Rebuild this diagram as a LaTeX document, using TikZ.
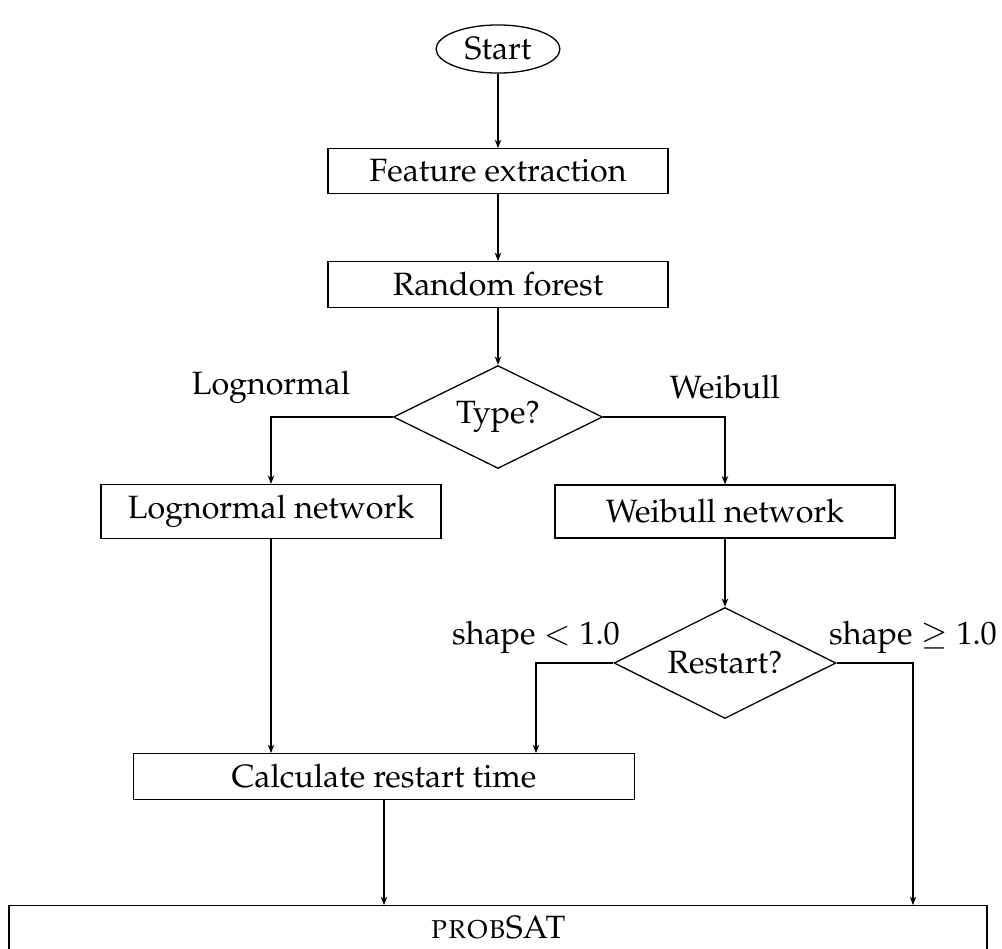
\documentclass[tikz,border=0pt]{standalone}
\usepackage[T1]{fontenc}
\usepackage{mathpazo}
\usetikzlibrary{shapes.geometric,arrows.meta}

\begin{document}
\begin{tikzpicture}[x=0.31pt,y=-0.31pt,
  block/.style={draw, rectangle, minimum width=105.4pt, align=center},
  netblock/.style={block, minimum height=16.4pt},
  decision/.style={draw, diamond, inner sep=0pt, aspect=2},
  terminal/.style={draw, ellipse, inner sep=0pt, minimum width=38.4pt, minimum height=14.9pt},
  branch/.style={inner sep=0pt},
  flow/.style={-{Stealth[length=2.6pt,width=2pt]}},
]
\useasboundingbox (0,0) rectangle (1002,949);

% main column
\node[terminal] (start) at (498,49) {Start};
\node[block] (feat) at (498,171) {Feature extraction};
\node[block] (forest) at (498,284.5) {Random forest};
\node[decision, minimum width=64.8pt, minimum height=31.9pt] (type) at (498,417) {Type?};

% the two networks
\node[netblock] (lnet) at (271,511.5) {Lognormal network};
\node[netblock] (wnet) at (725,511.5) {Weibull network};
\node[decision, minimum width=68.8pt, minimum height=34.4pt] (restart) at (725,663) {Restart?};

% restart time and solver
\node[block, minimum width=155.3pt] (calc) at (384,776.5) {Calculate restart time};
\node[block, minimum width=303.2pt] (prob) at (498,928) {\textsc{prob}SAT};

% branch labels
\node[branch] (lablog) at (271,387) {Lognormal};
\node[branch] (labwei) at (725,387) {Weibull};
\node[branch] (lablt) at (536,637) {shape $< 1.0$};
\node[branch] (labge) at (913,637) {shape $\geq 1.0$};

% x positions of the two Restart? branches
\coordinate (ltx) at (536,0);
\coordinate (rtx) at (913,0);

% connectors
\draw[flow] (start) -- (feat);
\draw[flow] (feat) -- (forest);
\draw[flow] (forest) -- (type);
\draw[flow] (type.west) -| (lnet.north);
\draw[flow] (type.east) -| (wnet.north);
\draw[flow] (wnet) -- (restart);
\draw[flow] (lnet.south) -- (lnet.south |- calc.north);
\draw[flow] (restart.west) -| (ltx |- calc.north);
\draw[flow] (calc.south) -- (calc.south |- prob.north);
\draw[flow] (restart.east) -| (rtx |- prob.north);
\end{tikzpicture}
\end{document}
